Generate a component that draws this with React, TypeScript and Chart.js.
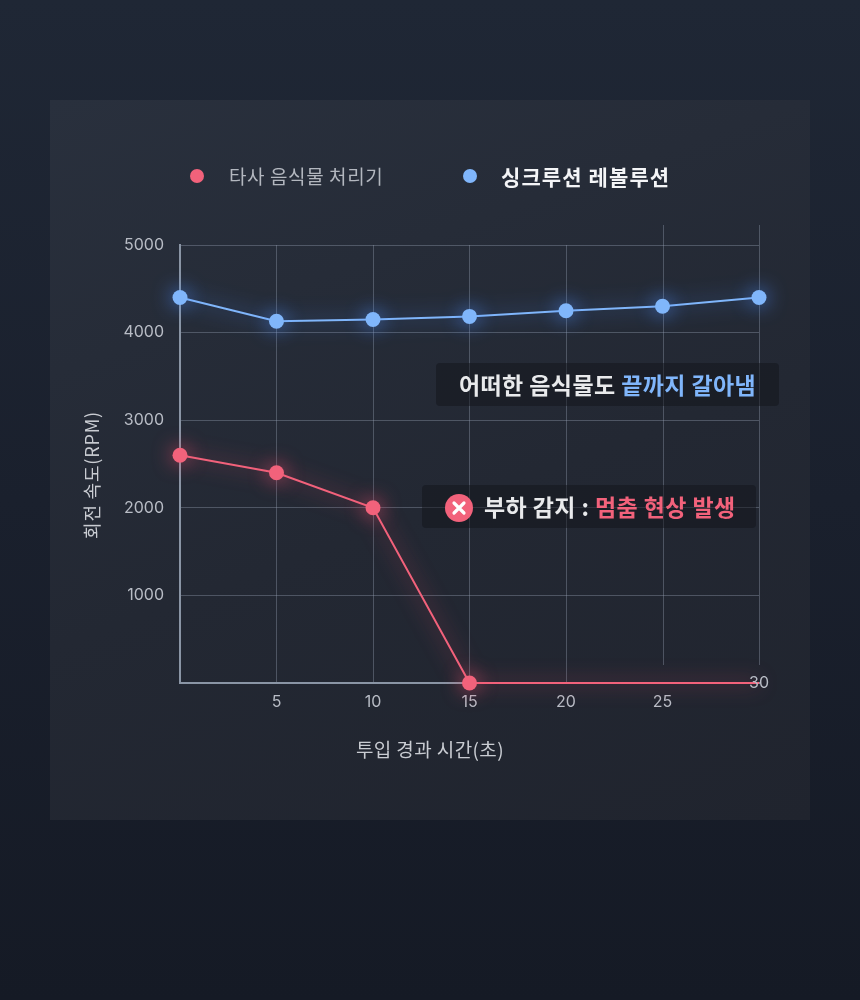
import React, { useEffect, useRef } from "react";
import { Chart, registerables } from "chart.js";

Chart.register(...registerables);

const timeSeconds = [0, 5, 10, 15, 20, 25, 30];
const competitorRpm = [2600, 2400, 2000, 0, 0, 0, 0];
const competitorPointRadius = [7.5, 7.5, 7.5, 7.5, 0, 0, 0];
const sinkRpm = [4400, 4130, 4150, 4185, 4250, 4300, 4400];
const yTickValues = [1000, 2000, 3000, 4000, 5000];
const xTickValues = [5, 10, 15, 20, 25];
const overlayGridValues = [25, 30];
const lastXLabel = "30";

const competitorLabel = "타사 음식물 처리기";
const sinkLabel = "싱크루션 레볼루션";
const xTitle = "투입 경과 시간(초)";
const yTitle = "회전 속도(RPM)";

const RED = "#f2627b";
const BLUE = "#80b6fb";
const TICK = "#b8bcc5";
const GRID = "rgba(150,160,178,0.38)";
const AXIS = "#8a95a5";
const FONT = "'Noto Sans CJK KR', 'Noto Sans', sans-serif";
const NUM_FONT = "Inter, 'Noto Sans', sans-serif";

const glowPlugin = {
  id: "glow",
  beforeDatasetDraw(chart: any, args: any) {
    const ctx = chart.ctx;
    const ds = chart.data.datasets[args.index];
    ctx.save();
    ctx.shadowColor = ds.glowColor;
    ctx.shadowBlur = 20;
  },
  afterDatasetDraw(chart: any) {
    chart.ctx.restore();
  },
};

const extrasPlugin = {
  id: "extras",
  beforeDatasetsDraw(chart: any) {
    const { ctx, chartArea, scales } = chart;
    ctx.save();
    ctx.strokeStyle = GRID;
    ctx.lineWidth = 1;
    overlayGridValues.forEach((v) => {
      const x = Math.round(scales.x.getPixelForValue(v)) + 0.5;
      ctx.beginPath();
      ctx.moveTo(x, chartArea.top - 20);
      ctx.lineTo(x, chartArea.bottom - 18);
      ctx.stroke();
    });
    ctx.restore();
  },
  afterDatasetsDraw(chart: any) {
    const { ctx, scales } = chart;
    ctx.save();
    ctx.fillStyle = TICK;
    ctx.font = `16px ${NUM_FONT}`;
    ctx.textAlign = "center";
    ctx.textBaseline = "middle";
    ctx.fillText(lastXLabel, scales.x.getPixelForValue(30), scales.y.getPixelForValue(0));
    ctx.restore();
  },
};

export default function App() {
  const canvasRef = useRef<HTMLCanvasElement | null>(null);

  useEffect(() => {
    if (!canvasRef.current) return;
    const chart = new Chart(canvasRef.current, {
      type: "line",
      data: {
        datasets: [
          {
            label: sinkLabel,
            data: timeSeconds.map((t, i) => ({ x: t, y: sinkRpm[i] })),
            borderColor: BLUE,
            backgroundColor: BLUE,
            borderWidth: 2,
            pointRadius: 7.5,
            pointHoverRadius: 7.5,
            pointBorderWidth: 0,
            clip: false,
            glowColor: "rgba(80,145,255,0.9)",
          } as any,
          {
            label: competitorLabel,
            data: timeSeconds.map((t, i) => ({ x: t, y: competitorRpm[i] })),
            borderColor: RED,
            backgroundColor: RED,
            borderWidth: 2,
            pointRadius: competitorPointRadius,
            pointHoverRadius: competitorPointRadius,
            pointBorderWidth: 0,
            clip: false,
            glowColor: "rgba(240,80,110,0.85)",
          } as any,
        ],
      },
      options: {
        animation: false,
        responsive: false,
        maintainAspectRatio: false,
        events: [],
        layout: { padding: { top: 145, right: 51, left: 0, bottom: 0 } },
        plugins: {
          legend: { display: false },
          tooltip: { enabled: false },
        },
        scales: {
          x: {
            type: "linear",
            min: 0,
            max: 30,
            afterFit: (s: any) => {
              s.height = 137;
            },
            afterBuildTicks: (s: any) => {
              s.ticks = [0, ...xTickValues, 30].map((v) => ({ value: v }));
            },
            ticks: {
              color: TICK,
              font: { family: NUM_FONT, size: 16 },
              padding: 10,
              maxRotation: 0,
              autoSkip: false,
              callback: (v: any) => (xTickValues.includes(Number(v)) ? String(v) : ""),
            },
            grid: {
              drawTicks: false,
              color: (c: any) =>
                c.tick && overlayGridValues.includes(c.tick.value) ? "rgba(0,0,0,0)" : GRID,
            },
            border: { color: AXIS, width: 2 },
          },
          y: {
            type: "linear",
            min: 0,
            max: 5000,
            afterFit: (s: any) => {
              s.width = 130;
            },
            afterBuildTicks: (s: any) => {
              s.ticks = [0, ...yTickValues].map((v) => ({ value: v }));
            },
            ticks: {
              color: TICK,
              font: { family: NUM_FONT, size: 16 },
              padding: 16,
              callback: (v: any) => (yTickValues.includes(Number(v)) ? String(v) : ""),
            },
            grid: {
              drawTicks: false,
              color: GRID,
            },
            border: { color: AXIS, width: 2 },
          },
        },
      } as any,
      plugins: [glowPlugin, extrasPlugin],
    });
    return () => chart.destroy();
  }, []);

  const dot = (color: string, left: number) => ({
    position: "absolute" as const,
    left: left - 7,
    top: 176 - 7,
    width: 14,
    height: 14,
    borderRadius: "50%",
    background: color,
  });

  return (
    <div
      style={{
        position: "absolute",
        left: 0,
        top: 0,
        width: 860,
        height: 1000,
        overflow: "hidden",
        background: "linear-gradient(180deg, #1f2735 0%, #1a202d 50%, #151a25 100%)",
        fontFamily: FONT,
      }}
    >
      <div
        style={{
          position: "absolute",
          left: 50,
          top: 100,
          width: 760,
          height: 720,
          background: "linear-gradient(160deg, #29303d 0%, #232833 55%, #20242e 100%)",
        }}
      >
        <canvas ref={canvasRef} width={760} height={720} style={{ width: 760, height: 720, display: "block" }} />
      </div>

      <div style={dot(RED, 197)} />
      <div
        style={{
          position: "absolute",
          left: 229,
          top: 176 - 14,
          height: 28,
          lineHeight: "28px",
          fontSize: 19,
          letterSpacing: 0.6,
          color: "#b3b7bf",
          whiteSpace: "nowrap",
        }}
      >
        {competitorLabel}
      </div>
      <div style={dot(BLUE, 470)} />
      <div
        style={{
          position: "absolute",
          left: 501,
          top: 176 - 15,
          height: 30,
          lineHeight: "30px",
          fontSize: 21,
          letterSpacing: 1.1,
          fontWeight: 700,
          color: "#f4f5f7",
          whiteSpace: "nowrap",
        }}
      >
        {sinkLabel}
      </div>

      <div
        style={{
          position: "absolute",
          left: 436,
          top: 363,
          width: 343,
          height: 43,
          borderRadius: 4,
          background: "rgba(18,20,26,0.5)",
        }}
      />
      <div
        style={{
          position: "absolute",
          left: 459,
          top: 363,
          height: 43,
          lineHeight: "43px",
          fontSize: 23,
          fontWeight: 700,
          color: "#e9eaec",
          whiteSpace: "nowrap",
          letterSpacing: 0.4,
        }}
      >
        어떠한 음식물도 <span style={{ color: BLUE }}>끝까지 갈아냄</span>
      </div>

      <div
        style={{
          position: "absolute",
          left: 422,
          top: 485,
          width: 334,
          height: 43,
          borderRadius: 4,
          background: "rgba(18,20,26,0.5)",
        }}
      />
      <div
        style={{
          position: "absolute",
          left: 445,
          top: 494,
          width: 28,
          height: 28,
          borderRadius: "50%",
          background: RED,
        }}
      >
        <svg width="28" height="28" viewBox="0 0 28 28" style={{ display: "block" }}>
          <path d="M9 9 L19 19 M19 9 L9 19" stroke="#ffffff" strokeWidth="3.2" strokeLinecap="round" />
        </svg>
      </div>
      <div
        style={{
          position: "absolute",
          left: 484,
          top: 485,
          height: 43,
          lineHeight: "43px",
          fontSize: 23,
          fontWeight: 700,
          color: "#e9eaec",
          whiteSpace: "nowrap",
          letterSpacing: 0.4,
        }}
      >
        부하 감지 : <span style={{ color: RED }}>멈춤 현상 발생</span>
      </div>

      <div
        style={{
          position: "absolute",
          left: 91 - 100,
          top: 475 - 14,
          width: 200,
          height: 28,
          lineHeight: "28px",
          textAlign: "center",
          fontSize: 18,
          letterSpacing: 0.8,
          color: "#c9ccd2",
          transform: "rotate(-90deg)",
          whiteSpace: "nowrap",
        }}
      >
        {yTitle}
      </div>
      <div
        style={{
          position: "absolute",
          left: 430 - 150,
          top: 749 - 14,
          width: 300,
          height: 28,
          lineHeight: "28px",
          textAlign: "center",
          fontSize: 19,
          letterSpacing: 0.4,
          color: "#c9ccd2",
          whiteSpace: "nowrap",
        }}
      >
        {xTitle}
      </div>
    </div>
  );
}
